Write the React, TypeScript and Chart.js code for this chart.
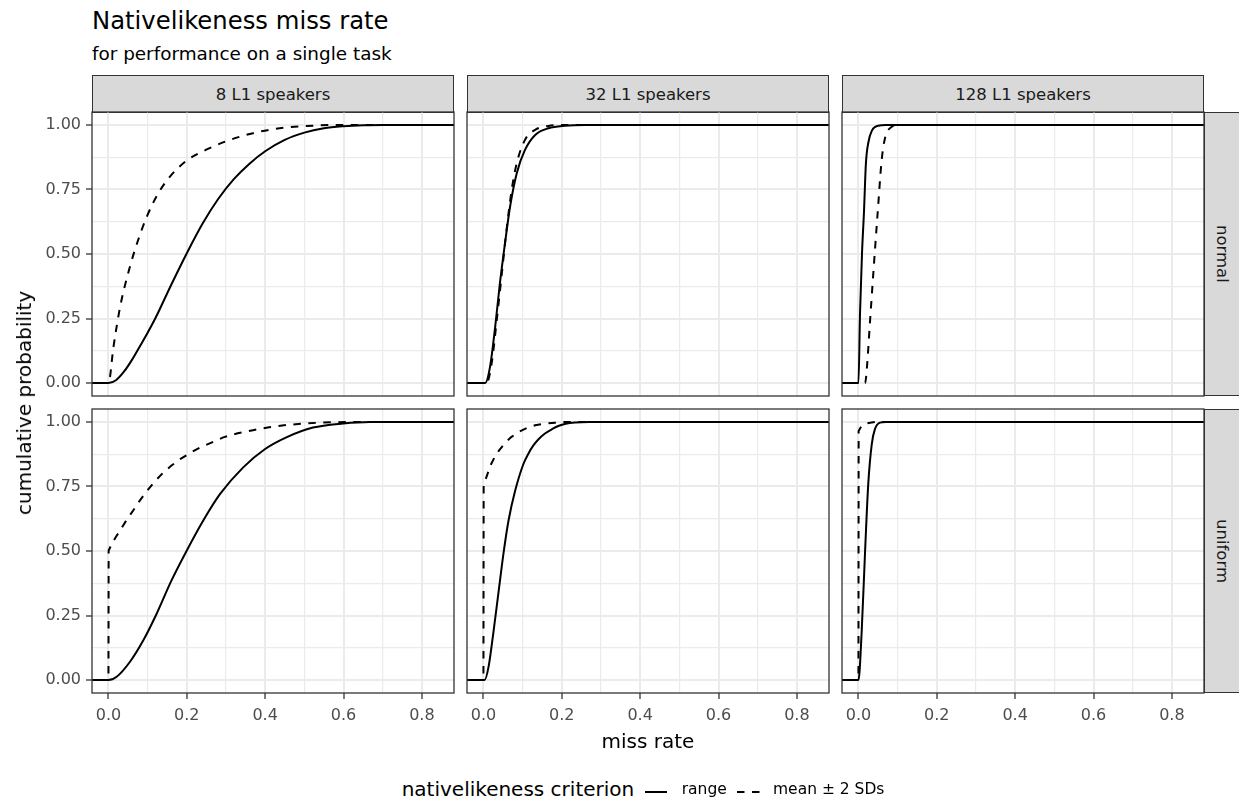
import React, { useEffect, useRef } from 'react';
import { Chart, registerables } from 'chart.js';

Chart.register(...registerables);

const FONT = "'DejaVu Sans', 'Liberation Sans', sans-serif";
Chart.defaults.font.family = FONT;

// ---------- labels ----------
const chartTitle = 'Nativelikeness miss rate';
const chartSubtitle = 'for performance on a single task';
const xAxisTitle = 'miss rate';
const yAxisTitle = 'cumulative probability';
const legendTitle = 'nativelikeness criterion';
const speakerGroups = ['8 L1 speakers', '32 L1 speakers', '128 L1 speakers'];
const distributions = ['normal', 'uniform'];
const criteria = ['range', 'mean ± 2 SDs'];

// ---------- ticks ----------
const xMajorTicks = [0, 0.2, 0.4, 0.6, 0.8];
const xTickLabels = ['0.0', '0.2', '0.4', '0.6', '0.8'];
const xMinorTicks = [0.1, 0.3, 0.5, 0.7];
const yMajorTicks = [0, 0.25, 0.5, 0.75, 1];
const yTickLabels = ['0.00', '0.25', '0.50', '0.75', '1.00'];
const yMinorTicks = [0.125, 0.375, 0.625, 0.875];
const X_MIN = -0.042;
const X_MAX = 0.882;
const Y_MIN = -0.05;
const Y_MAX = 1.05;

// ---------- data (ECDF curves, padded to the panel edges) ----------
// normal, 8 L1 speakers
const normal8RangeX = [-0.06, 0, 0.02, 0.04, 0.06, 0.08, 0.1, 0.12, 0.16, 0.2, 0.24, 0.28, 0.32, 0.36, 0.4, 0.45, 0.5, 0.55, 0.6, 0.65, 0.7, 0.95];
const normal8RangeP = [0, 0, 0.012, 0.045, 0.09, 0.142, 0.195, 0.252, 0.38, 0.503, 0.617, 0.713, 0.79, 0.85, 0.898, 0.942, 0.97, 0.987, 0.995, 0.999, 1, 1];
const normal8MeanX = [-0.06, 0, 0.013, 0.03, 0.055, 0.076, 0.098, 0.127, 0.157, 0.2, 0.251, 0.301, 0.369, 0.437, 0.522, 0.607, 0.95];
const normal8MeanP = [0, 0, 0.142, 0.297, 0.452, 0.555, 0.645, 0.735, 0.8, 0.862, 0.905, 0.937, 0.968, 0.987, 0.997, 1, 1];
// uniform, 8 L1 speakers
const uniform8RangeX = [-0.06, 0, 0.021, 0.055, 0.089, 0.123, 0.161, 0.2, 0.242, 0.285, 0.344, 0.399, 0.454, 0.522, 0.599, 0.667, 0.95];
const uniform8RangeP = [0, 0, 0.013, 0.071, 0.154, 0.257, 0.386, 0.502, 0.618, 0.721, 0.824, 0.894, 0.94, 0.978, 0.994, 1, 1];
const uniform8MeanX = [-0.06, 0, 0.0005, 0.01, 0.02, 0.03, 0.045, 0.064, 0.08, 0.098, 0.12, 0.14, 0.16, 0.183, 0.21, 0.234, 0.26, 0.293, 0.33, 0.369, 0.41, 0.454, 0.5, 0.539, 0.58, 0.624, 0.95];
const uniform8MeanP = [0, 0, 0.502, 0.532, 0.557, 0.58, 0.617, 0.659, 0.695, 0.732, 0.772, 0.804, 0.83, 0.856, 0.881, 0.901, 0.918, 0.94, 0.956, 0.968, 0.979, 0.988, 0.994, 0.997, 0.999, 1, 1];
// normal, 32 L1 speakers
const normal32RangeX = [-0.06, 0.004, 0.017, 0.03, 0.042, 0.055, 0.068, 0.085, 0.106, 0.132, 0.166, 0.208, 0.26, 0.95];
const normal32RangeP = [0, 0, 0.065, 0.219, 0.387, 0.542, 0.684, 0.813, 0.903, 0.961, 0.987, 0.997, 1, 1];
const normal32MeanX = [-0.06, 0.008, 0.021, 0.034, 0.047, 0.059, 0.072, 0.085, 0.106, 0.132, 0.166, 0.2, 0.95];
const normal32MeanP = [0, 0, 0.077, 0.245, 0.426, 0.594, 0.748, 0.852, 0.942, 0.981, 0.996, 1, 1];
// uniform, 32 L1 speakers
const uniform32RangeX = [-0.06, 0.003, 0.013, 0.025, 0.038, 0.051, 0.064, 0.081, 0.102, 0.115, 0.127, 0.14, 0.157, 0.175, 0.191, 0.21, 0.234, 0.27, 0.95];
const uniform32RangeP = [0, 0, 0.051, 0.18, 0.335, 0.489, 0.618, 0.734, 0.837, 0.878, 0.908, 0.932, 0.955, 0.972, 0.984, 0.993, 0.998, 1, 1];
const uniform32MeanX = [-0.06, 0, 0.0005, 0.005, 0.013, 0.02, 0.03, 0.04, 0.055, 0.07, 0.089, 0.11, 0.132, 0.155, 0.183, 0.21, 0.95];
const uniform32MeanP = [0, 0, 0.753, 0.775, 0.81, 0.838, 0.868, 0.89, 0.918, 0.94, 0.96, 0.976, 0.987, 0.993, 0.997, 1, 1];
// normal, 128 L1 speakers
const normal128RangeX = [-0.06, 0, 0.004, 0.009, 0.014, 0.019, 0.025, 0.035, 0.05, 0.07, 0.95];
const normal128RangeP = [0, 0, 0.27, 0.5, 0.66, 0.85, 0.93, 0.98, 0.997, 1, 1];
const normal128MeanX = [-0.06, 0.017, 0.02, 0.03, 0.04, 0.05, 0.059, 0.068, 0.085, 0.1, 0.95];
const normal128MeanP = [0, 0, 0.03, 0.25, 0.47, 0.68, 0.86, 0.95, 0.993, 1, 1];
// uniform, 128 L1 speakers
const uniform128RangeX = [-0.06, 0, 0.008, 0.017, 0.025, 0.034, 0.042, 0.055, 0.07, 0.95];
const uniform128RangeP = [0, 0, 0.18, 0.502, 0.759, 0.914, 0.972, 0.997, 1, 1];
const uniform128MeanX = [-0.06, 0, 0.0005, 0.008, 0.02, 0.03, 0.045, 0.95];
const uniform128MeanP = [0, 0, 0.965, 0.985, 0.994, 0.997, 1, 1];

const panelData = [
  [
    [normal8RangeX, normal8RangeP, normal8MeanX, normal8MeanP],
    [normal32RangeX, normal32RangeP, normal32MeanX, normal32MeanP],
    [normal128RangeX, normal128RangeP, normal128MeanX, normal128MeanP],
  ],
  [
    [uniform8RangeX, uniform8RangeP, uniform8MeanX, uniform8MeanP],
    [uniform32RangeX, uniform32RangeP, uniform32MeanX, uniform32MeanP],
    [uniform128RangeX, uniform128RangeP, uniform128MeanX, uniform128MeanP],
  ],
];

// ---------- layout ----------
const COL_LEFT = [92, 467, 842];
const PANEL_W = 362;
const ROW_TOP = [112, 409];
const PANEL_H = 284;
const STRIP_TOP = 75;
const STRIP_H = 38;
const RIGHT_STRIP_W = 37;
const Y_AXIS_W = 60;
const X_AXIS_H = 40;
const PAD = 3;
const DASH = [7.5, 7.5];

const TICK_COLOR = '#4D4D4D';
const BORDER_COLOR = '#333333';
const GRID_COLOR = '#EBEBEB';
const STRIP_FILL = '#D9D9D9';

const borderPlugin = {
  id: 'panelBorder',
  afterDraw(chart: any) {
    const { ctx, chartArea } = chart;
    ctx.save();
    ctx.strokeStyle = BORDER_COLOR;
    ctx.lineWidth = 1.3;
    ctx.strokeRect(chartArea.left, chartArea.top, chartArea.right - chartArea.left, chartArea.bottom - chartArea.top);
    ctx.restore();
  },
};

// curves with a vertical jump are drawn with straight segments, others smoothly
const hasJump = (xs: number[]) => xs.some((x, i) => i > 0 && x - xs[i - 1] < 0.001);

function makeDataset(label: string, xs: number[], ps: number[], dashed: boolean) {
  const jump = hasJump(xs);
  return {
    label,
    data: xs.map((x, i) => ({ x, y: ps[i] })),
    borderColor: '#000000',
    borderWidth: 2,
    borderDash: dashed ? DASH : [],
    pointRadius: 0,
    fill: false,
    tension: 0,
    cubicInterpolationMode: jump ? 'default' : 'monotone',
  };
}

function Panel({ row, col }: { row: number; col: number }) {
  const ref = useRef<HTMLCanvasElement>(null);
  const showY = col === 0;
  const showX = row === 1;
  const yW = showY ? Y_AXIS_W : 0;
  const xH = showX ? X_AXIS_H : 0;
  const width = PAD + yW + PANEL_W + PAD;
  const height = PAD + PANEL_H + xH + PAD;
  const left = COL_LEFT[col] - PAD - yW;
  const top = ROW_TOP[row] - PAD;

  useEffect(() => {
    const [rx, rp, mx, mp] = panelData[row][col];
    const chart = new Chart(ref.current as HTMLCanvasElement, {
      type: 'line',
      data: {
        datasets: [makeDataset(criteria[0], rx, rp, false), makeDataset(criteria[1], mx, mp, true)],
      },
      options: {
        animation: false,
        responsive: false,
        devicePixelRatio: 1,
        events: [],
        layout: { padding: { left: PAD, right: PAD, top: PAD, bottom: PAD } },
        plugins: { legend: { display: false }, tooltip: { enabled: false } },
        scales: {
          x: {
            type: 'linear',
            min: X_MIN,
            max: X_MAX,
            afterBuildTicks: (axis: any) => {
              axis.ticks = [...xMajorTicks, ...xMinorTicks].sort((a, b) => a - b).map((v) => ({ value: v }));
            },
            afterFit: (axis: any) => {
              axis.height = xH;
              axis.paddingLeft = 0;
              axis.paddingRight = 0;
            },
            ticks: {
              display: showX,
              autoSkip: false,
              maxRotation: 0,
              padding: 7,
              color: TICK_COLOR,
              font: { size: 16, family: FONT },
              callback: (v: any) => {
                const i = xMajorTicks.indexOf(v);
                return i >= 0 ? xTickLabels[i] : '';
              },
            },
            grid: {
              color: GRID_COLOR,
              lineWidth: (c: any) => (xMajorTicks.includes(c.tick?.value) ? 2 : 1.2),
              drawTicks: showX,
              tickLength: 6,
              tickWidth: 1.3,
              tickColor: (c: any) => (xMajorTicks.includes(c.tick?.value) ? BORDER_COLOR : 'rgba(0,0,0,0)'),
            },
            border: { display: false },
          },
          y: {
            type: 'linear',
            min: Y_MIN,
            max: Y_MAX,
            afterBuildTicks: (axis: any) => {
              axis.ticks = [...yMajorTicks, ...yMinorTicks].sort((a, b) => a - b).map((v) => ({ value: v }));
            },
            afterFit: (axis: any) => {
              axis.width = yW;
              axis.paddingTop = 0;
              axis.paddingBottom = 0;
            },
            ticks: {
              display: showY,
              autoSkip: false,
              padding: 5,
              color: TICK_COLOR,
              font: { size: 16, family: FONT },
              callback: (v: any) => {
                const i = yMajorTicks.indexOf(v);
                return i >= 0 ? yTickLabels[i] : '';
              },
            },
            grid: {
              color: GRID_COLOR,
              lineWidth: (c: any) => (yMajorTicks.includes(c.tick?.value) ? 2 : 1.2),
              drawTicks: showY,
              tickLength: 6,
              tickWidth: 1.3,
              tickColor: (c: any) => (yMajorTicks.includes(c.tick?.value) ? BORDER_COLOR : 'rgba(0,0,0,0)'),
            },
            border: { display: false },
          },
        },
      } as any,
      plugins: [borderPlugin],
    });
    return () => chart.destroy();
  }, [row, col]);

  return (
    <canvas
      ref={ref}
      width={width}
      height={height}
      style={{ position: 'absolute', left, top, width, height }}
    />
  );
}

const text = (size: number, color = '#000000'): React.CSSProperties => ({
  position: 'absolute',
  fontFamily: FONT,
  fontSize: size,
  lineHeight: `${size}px`,
  color,
  whiteSpace: 'nowrap',
});

export default function App() {
  const plotCenterX = (COL_LEFT[0] + COL_LEFT[2] + PANEL_W) / 2;
  const plotCenterY = (ROW_TOP[0] + ROW_TOP[1] + PANEL_H) / 2;
  return (
    <div
      style={{
        position: 'absolute',
        left: 0,
        top: 0,
        width: 1239,
        height: 808,
        overflow: 'hidden',
        background: '#ffffff',
        fontFamily: FONT,
      }}
    >
      <div style={{ ...text(24.3), left: 92, top: 9.4 }}>{chartTitle}</div>
      <div style={{ ...text(18.4), left: 92, top: 45.1 }}>{chartSubtitle}</div>

      {speakerGroups.map((g, c) => (
        <div
          key={g}
          style={{
            position: 'absolute',
            left: COL_LEFT[c],
            top: STRIP_TOP,
            width: PANEL_W,
            height: STRIP_H,
            boxSizing: 'border-box',
            background: STRIP_FILL,
            border: `1.3px solid ${BORDER_COLOR}`,
            display: 'flex',
            alignItems: 'center',
            justifyContent: 'center',
            fontSize: 16.5,
            color: '#1A1A1A',
          }}
        >
          {g}
        </div>
      ))}

      {distributions.map((d, r) => (
        <div
          key={d}
          style={{
            position: 'absolute',
            left: COL_LEFT[2] + PANEL_W,
            top: ROW_TOP[r],
            width: RIGHT_STRIP_W,
            height: PANEL_H,
            boxSizing: 'border-box',
            background: STRIP_FILL,
            border: `1.3px solid ${BORDER_COLOR}`,
            display: 'flex',
            alignItems: 'center',
            justifyContent: 'center',
            fontSize: 16.5,
            color: '#1A1A1A',
          }}
        >
          <span style={{ writingMode: 'vertical-rl' }}>{d}</span>
        </div>
      ))}

      {[0, 1].map((r) => [0, 1, 2].map((c) => <Panel key={`${r}-${c}`} row={r} col={c} />))}

      <div
        style={{
          ...text(20),
          left: 24,
          top: plotCenterY,
          transform: 'translate(-50%, -50%) rotate(-90deg)',
        }}
      >
        {yAxisTitle}
      </div>
      <div style={{ ...text(20), left: plotCenterX, top: 741, transform: 'translate(-50%, -50%)' }}>
        {xAxisTitle}
      </div>

      <div style={{ ...text(20), left: 401.7, top: 778.8 }}>{legendTitle}</div>
      <svg style={{ position: 'absolute', left: 0, top: 780 }} width={1239} height={28}>
        <line x1={645} x2={667} y1={12} y2={12} stroke="#000" strokeWidth={2} />
        <line x1={737} x2={760} y1={12} y2={12} stroke="#000" strokeWidth={2} strokeDasharray={DASH.join(' ')} />
      </svg>
      <div style={{ ...text(15.5), left: 681.7, top: 782.2 }}>{criteria[0]}</div>
      <div style={{ ...text(15.5), left: 773, top: 782.2 }}>{criteria[1]}</div>
    </div>
  );
}
